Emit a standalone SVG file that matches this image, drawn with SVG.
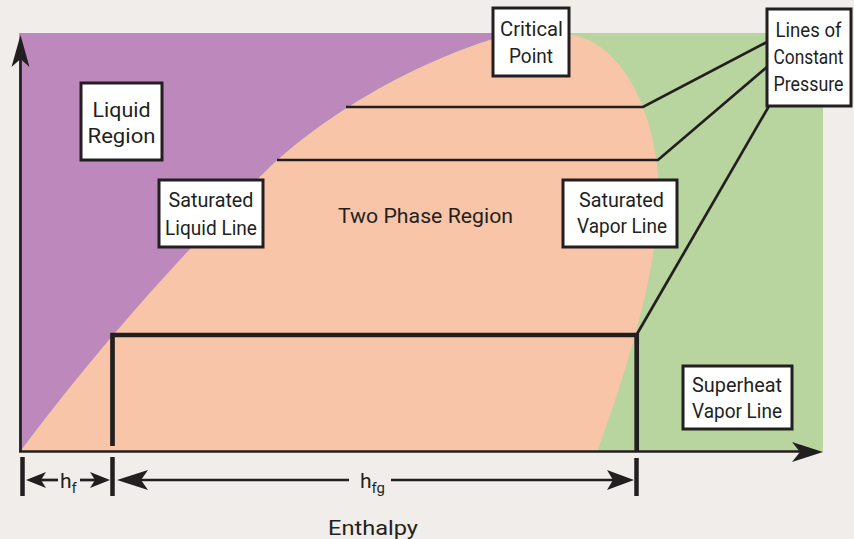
<svg xmlns="http://www.w3.org/2000/svg" width="854" height="539" viewBox="0 0 854 539">
  <style>
    .lbl { font-family: Roboto, "Liberation Sans Narrow", "DejaVu Sans Condensed", sans-serif; font-size: 21px; fill: #231f20; text-anchor: middle; }
    .box { fill: #ffffff; stroke: #231f20; stroke-width: 3; }
    .ln { stroke: #231f20; stroke-width: 2.7; fill: none; }
    .thick { stroke: #231f20; stroke-width: 4.7; fill: none; }
    .tick { stroke: #231f20; stroke-width: 4.5; fill: none; }
    .ah { fill: #231f20; }
  </style>
  <rect x="0" y="0" width="854" height="539" fill="#f0edea"/>

  <g id="regions">
    <rect x="19" y="33" width="804" height="419" fill="#b8d49f"/>
    <path d="M19,33 L512,33 C400,65 310,128 267,170 C140,295 55,405 20,452 L19,452 Z" fill="#bd88bb"/>
    <path d="M20,452 C55,405 140,295 267,170 C310,128 400,65 510,34 L565,34 C615,38 648,95 657,165 C664,230 645,320 597,452 Z" fill="#f9c5a9"/>
  </g>

  <g id="connectors">
    <!-- axes -->
    <line class="ln" x1="20.5" y1="452" x2="20.5" y2="58"/>
    <polygon class="ah" points="20.5,35 29.5,67 20.5,59 11.5,67"/>
    <line class="ln" x1="19" y1="451.5" x2="805" y2="451.5"/>
    <polygon class="ah" points="823,452 792,442 800,452 792,462"/>
    <!-- lines of constant pressure -->
    <polyline class="ln" points="346,107 643,107 767,42"/>
    <polyline class="ln" points="277,160 658,160 767,67"/>
    <line class="ln" x1="637" y1="334" x2="769" y2="106"/>
    <polyline class="thick" points="112.5,446 112.5,335 636.7,335 636.7,452"/>
    <!-- dimension ticks -->
    <line class="tick" x1="22.5" y1="457" x2="22.5" y2="496"/>
    <line class="tick" x1="112.5" y1="457" x2="112.5" y2="496"/>
    <line class="tick" x1="636.5" y1="458" x2="636.5" y2="496"/>
    <!-- h_f dimension -->
    <line class="ln" x1="40" y1="480" x2="58" y2="480"/>
    <line class="ln" x1="80" y1="480" x2="98" y2="480"/>
    <polygon class="ah" points="26,480 46,472 41,480 46,488"/>
    <polygon class="ah" points="110,480 90,472 95,480 90,488"/>
    <!-- h_fg dimension -->
    <line class="ln" x1="140" y1="480" x2="349" y2="480"/>
    <line class="ln" x1="391" y1="480" x2="614" y2="480"/>
    <polygon class="ah" points="117,480 148,470 141,480 148,490"/>
    <polygon class="ah" points="634,480 607,470 613,480 607,490"/>
  </g>

  <g id="liquid-region">
    <rect class="box" x="81" y="83" width="81" height="77"/>
    <text class="lbl" x="121.5" y="117" textLength="58" lengthAdjust="spacingAndGlyphs">Liquid</text>
    <text class="lbl" x="121.5" y="143" textLength="68" lengthAdjust="spacingAndGlyphs">Region</text>
  </g>

  <g id="saturated-liquid-line">
    <rect class="box" x="159" y="180" width="104" height="67"/>
    <text class="lbl" x="211" y="207" textLength="85" lengthAdjust="spacingAndGlyphs">Saturated</text>
    <text class="lbl" x="211" y="235" textLength="92" lengthAdjust="spacingAndGlyphs">Liquid Line</text>
  </g>

  <g id="two-phase-region">
    <text class="lbl" x="425.5" y="223" font-size="22" textLength="175" lengthAdjust="spacingAndGlyphs">Two Phase Region</text>
  </g>

  <g id="critical-point">
    <rect class="box" x="493" y="8" width="76" height="68"/>
    <text class="lbl" x="531.5" y="36" textLength="63" lengthAdjust="spacingAndGlyphs">Critical</text>
    <text class="lbl" x="531" y="63" textLength="44" lengthAdjust="spacingAndGlyphs">Point</text>
  </g>

  <g id="lines-of-constant-pressure">
    <rect class="box" x="767" y="9" width="84" height="97"/>
    <text class="lbl" x="808.5" y="37" font-size="19" textLength="66" lengthAdjust="spacingAndGlyphs">Lines of</text>
    <text class="lbl" x="808.5" y="64" font-size="19" textLength="70" lengthAdjust="spacingAndGlyphs">Constant</text>
    <text class="lbl" x="808.5" y="91" font-size="19" textLength="70" lengthAdjust="spacingAndGlyphs">Pressure</text>
  </g>

  <g id="saturated-vapor-line">
    <rect class="box" x="563" y="180" width="114" height="67"/>
    <text class="lbl" x="621.5" y="207" textLength="85" lengthAdjust="spacingAndGlyphs">Saturated</text>
    <text class="lbl" x="622" y="233" textLength="90" lengthAdjust="spacingAndGlyphs">Vapor Line</text>
  </g>

  <g id="superheat-vapor-line">
    <rect class="box" x="683" y="366" width="109" height="63"/>
    <text class="lbl" x="737" y="392" textLength="90" lengthAdjust="spacingAndGlyphs">Superheat</text>
    <text class="lbl" x="737" y="418" textLength="90" lengthAdjust="spacingAndGlyphs">Vapor Line</text>
  </g>

  <g id="dimension-labels">
    <text class="lbl" x="60" y="488" font-size="23" style="text-anchor:start">h<tspan font-size="15" dy="5">f</tspan></text>
    <text class="lbl" x="360" y="488" font-size="23" style="text-anchor:start">h<tspan font-size="15" dy="5">fg</tspan></text>
    <text class="lbl" x="373" y="535" font-size="23" textLength="90" lengthAdjust="spacingAndGlyphs">Enthalpy</text>
  </g>
</svg>
